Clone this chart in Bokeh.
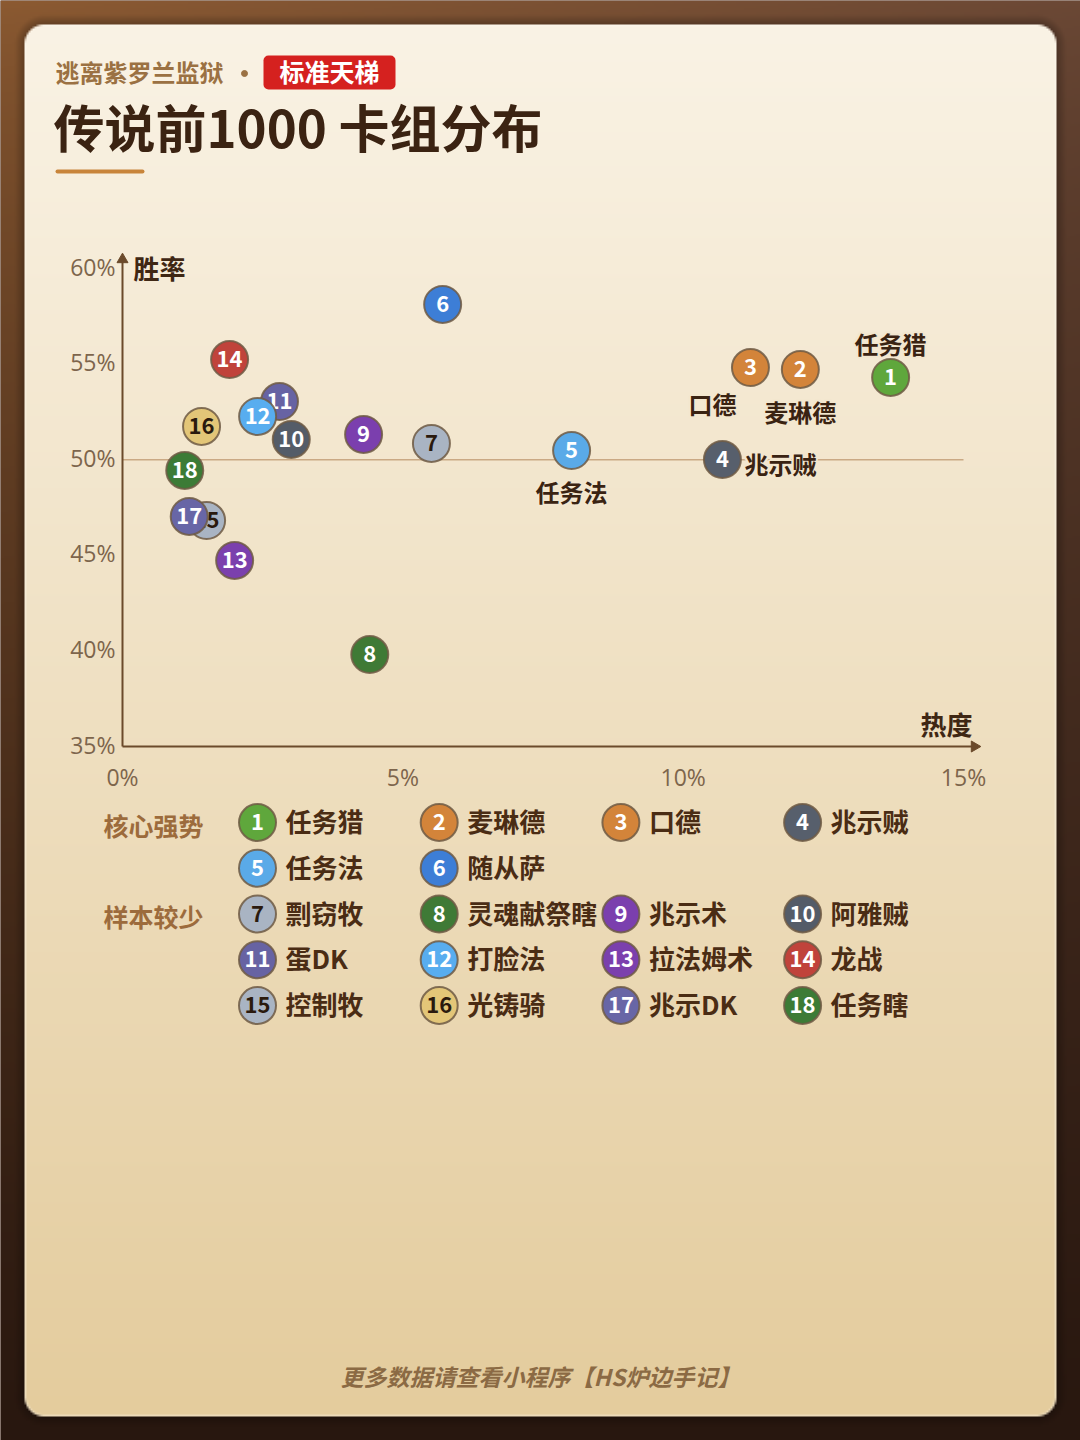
import numpy as np
from bokeh.plotting import figure
from bokeh.models import Range1d
from bokeh.embed import file_html
from bokeh.resources import INLINE
from bokeh.core.properties import value

# ---------------- data ----------------
deck_ids = list(range(1, 19))
deck_names = ["任务猎", "麦琳德", "口德", "兆示贼", "任务法", "随从萨",
              "剽窃牧", "灵魂献祭瞎", "兆示术", "阿雅贼", "蛋DK", "打脸法",
              "拉法姆术", "龙战", "控制牧", "光铸骑", "兆示DK", "任务瞎"]
popularity = [13.70, 12.09, 11.20, 10.70, 8.01, 5.71, 5.51, 4.41, 4.30,
              3.01, 2.80, 2.41, 2.00, 1.91, 1.50, 1.41, 1.19, 1.11]
win_rate = [54.30, 54.72, 54.82, 50.01, 50.48, 58.12, 50.85, 39.81, 51.32,
            51.06, 53.04, 52.26, 44.73, 55.24, 46.82, 51.74, 47.03, 49.44]
deck_colors = ["#5fa73c", "#d3843a", "#d3843a", "#575f6c", "#5aaae8", "#3d7ed6",
               "#a9b4c3", "#3f7a36", "#7b3fae", "#545c68", "#6763a3", "#58adef",
               "#7b40ad", "#c0433b", "#a9b4c3", "#e3c678", "#6866a6", "#3c7b36"]
deck_group = ["核心强势"] * 6 + ["样本较少"] * 12
group_labels = ["核心强势", "样本较少"]
x_ticks = [0, 5, 10, 15]
x_tick_labels = ["0%", "5%", "10%", "15%"]
y_ticks = [35, 40, 45, 50, 55, 60]
y_tick_labels = ["35%", "40%", "45%", "50%", "55%", "60%"]
reference_win_rate = 50
labelled_decks = [1, 2, 3, 4, 5]
x_axis_title = "热度"
y_axis_title = "胜率"
season = "逃离紫罗兰监狱"
mode = "标准天梯"
title = "传说前1000 卡组分布"
footer = "更多数据请查看小程序【HS炉边手记】"

# ---------------- layout helpers ----------------
W, H = 1080, 1440
TS = 2  # text lift in px (baseline correction)


def RX(x):
    return x


def RY(y):
    return H - y


CJK = value("Noto Sans CJK SC")
LAT = value("Open Sans")

p = figure(width=W, height=H, x_range=Range1d(0, W), y_range=Range1d(0, H),
           output_backend="svg", toolbar_location=None, min_border=0,
           x_axis_location=None, y_axis_location=None)
p.grid.visible = False
p.outline_line_color = None
p.background_fill_color = "#4e2e1e"
p.border_fill_color = "#4e2e1e"

# ---------------- background (outer gradient + card) ----------------
S = 2
w, h = W // S, H // S
gx = (np.arange(w) + 0.5) * S
gy = (np.arange(h) + 0.5) * S
X, Y = np.meshgrid(gx, gy)
s = (X / W)[..., None]
t = (Y / H)[..., None]
TL = np.array([141, 91, 50.])
TR = np.array([108, 73, 54.])
BOT = np.array([40, 23, 15.])
top = TL * (1 - s) + TR * s
k = t ** 0.7
rgb = top * (1 - k) + BOT * k
cx0, cy0, cx1, cy1, rad = 24, 24, 1056, 1416, 20
ct = np.clip((Y - cy0) / (cy1 - cy0), 0, 1)[..., None]
CT = np.array([250, 243, 229.])
CB = np.array([228, 204, 157.])
card = CT * (1 - ct) + CB * ct
ddx = np.maximum(np.maximum(cx0 + rad - X, 0), X - (cx1 - rad))
ddy = np.maximum(np.maximum(cy0 + rad - Y, 0), Y - (cy1 - rad))
dist = rad - np.sqrt(ddx ** 2 + ddy ** 2)
cov = np.clip(dist / S + 0.5, 0, 1)[..., None]
edge = np.clip(1 - dist / 3.0, 0, 1)[..., None]
card = card * (1 - 0.5 * edge) + np.array([255, 251, 242.]) * 0.5 * edge
shadow = (np.clip(1 - (-dist) / 10, 0, 1) * (dist < 0))[..., None]
rgb = rgb * (1 - 0.25 * shadow)
rgb = rgb * (1 - cov) + card * cov
rgba = np.empty((h, w, 4), dtype=np.uint8)
rgba[..., :3] = np.clip(rgb, 0, 255).astype(np.uint8)
rgba[..., 3] = 255
rgba = np.ascontiguousarray(rgba[::-1])
img = rgba.view(dtype=np.uint32).reshape((h, w))
p.image_rgba(image=[img], x=0, y=0, dw=W, dh=H)

# ---------------- header ----------------
p.text(x=[RX(55)], y=[RY(73) + TS], text=[season], text_font=CJK, text_font_style="bold",
       text_font_size="24px", text_color="#9b7143", text_align="left", text_baseline="middle")
p.scatter(x=[RX(244)], y=[RY(73)], size=6, marker="circle", color="#9b7143")
try:
    p.quad(left=[RX(263)], right=[RX(395)], top=[RY(55)], bottom=[RY(89)],
           fill_color="#d5211f", line_color=None, border_radius=5)
except Exception:
    p.quad(left=[RX(263)], right=[RX(395)], top=[RY(55)], bottom=[RY(89)],
           fill_color="#d5211f", line_color=None)
p.text(x=[RX(329)], y=[RY(72) + TS], text=[mode], text_font=CJK, text_font_style="bold",
       text_font_size="25px", text_color="#ffffff", text_align="center", text_baseline="middle")
p.text(x=[RX(53)], y=[RY(127) + TS], text=[title], text_font=CJK, text_font_style="bold",
       text_font_size="51px", text_color="#3b2312", text_align="left", text_baseline="middle")
p.segment(x0=[RX(57)], y0=[RY(171)], x1=[RX(142)], y1=[RY(171)], line_width=4,
          line_color="#c8843a", line_cap="round")

# ---------------- scales for the scatter ----------------
X0_PX, X15_PX = RX(122), RX(963)
ppx = (X15_PX - X0_PX) / 15.0
p.extra_x_ranges = {"pop": Range1d(0 - X0_PX / ppx, (W - X0_PX) / ppx)}
Y35_PX, Y60_PX = RY(746), RY(268)
ppy = (Y60_PX - Y35_PX) / 25.0
p.extra_y_ranges = {"wr": Range1d(35 - Y35_PX / ppy, 35 + (H - Y35_PX) / ppy)}
DR = dict(x_range_name="pop", y_range_name="wr")
tl = TS / ppy  # text lift in data units

AXC = "#6b4a2b"
x_min, y_min = x_ticks[0], y_ticks[0]
x_end = x_ticks[-1] + 11 / ppx
y_end = y_ticks[-1] + 9 / ppy

# reference line
p.segment(x0=[x_min], y0=[reference_win_rate], x1=[x_ticks[-1]], y1=[reference_win_rate],
          line_color="#caa984", line_width=1.5, **DR)
# axes with arrows
p.segment(x0=[x_min, x_min], y0=[y_min, y_min], x1=[x_min, x_end], y1=[y_end, y_min],
          line_color=AXC, line_width=2, **DR)
p.scatter(x=[x_min], y=[y_end], marker="triangle", size=11, angle=0,
          fill_color=AXC, line_color=AXC, **DR)
p.scatter(x=[x_end], y=[y_min], marker="triangle", size=11, angle=-np.pi / 2,
          fill_color=AXC, line_color=AXC, **DR)

# tick labels
p.text(x=[x_min] * len(y_ticks), y=[v + tl for v in y_ticks], text=y_tick_labels, x_offset=-7,
       text_font=LAT, text_font_size="23px", text_color="#7d654c",
       text_align="right", text_baseline="middle", **DR)
p.text(x=x_ticks, y=[y_min - 32 / ppy + tl] * len(x_ticks), text=x_tick_labels,
       text_font=LAT, text_font_size="23px", text_color="#7d654c",
       text_align="center", text_baseline="middle", **DR)

# axis titles
p.text(x=[x_min + 11 / ppx], y=[y_ticks[-1] - 1 / ppy + tl], text=[y_axis_title], text_font=CJK,
       text_font_style="bold", text_font_size="26px", text_color="#3f2714",
       text_align="left", text_baseline="middle", **DR)
p.text(x=[x_ticks[-1] + 9 / ppx], y=[y_min + 21 / ppy + tl], text=[x_axis_title], text_font=CJK,
       text_font_style="bold", text_font_size="26px", text_color="#3f2714",
       text_align="right", text_baseline="middle", **DR)

# deck labels next to leading points (offsets in screen px, +down)
label_offsets = {1: (0, -32, "center"), 2: (0, 44, "center"), 3: (-38, 38, "center"),
                 4: (22, 6, "left"), 5: (0, 43, "center")}
halo = [(-2, 0), (2, 0), (0, -2), (0, 2), (-1.5, -1.5), (1.5, 1.5), (-1.5, 1.5), (1.5, -1.5)]
for did in labelled_decks:
    i = deck_ids.index(did)
    dx, dy, al = label_offsets[did]
    lx = popularity[i] + dx / ppx
    ly = win_rate[i] - dy / ppy + tl
    for hx, hy in halo:
        p.text(x=[lx], y=[ly], text=[deck_names[i]], x_offset=hx, y_offset=hy,
               text_font=CJK, text_font_style="bold", text_font_size="24px",
               text_color="#f3e7cf", text_align=al, text_baseline="middle", **DR)
    p.text(x=[lx], y=[ly], text=[deck_names[i]], text_font=CJK, text_font_style="bold",
           text_font_size="24px", text_color="#3a2312", text_align=al,
           text_baseline="middle", **DR)


def num_color(hexc):
    r, g, b = int(hexc[1:3], 16), int(hexc[3:5], 16), int(hexc[5:7], 16)
    lum = (0.2126 * r + 0.7152 * g + 0.0722 * b) / 255
    return "#2a1a0e" if lum > 0.66 else "#ffffff"


# points (custom drawing order so overlaps match)
draw_order = [0, 1, 2, 3, 4, 5, 6, 7, 8, 10, 9, 11, 12, 13, 14, 15, 16, 17]
for i in draw_order:
    p.scatter(x=[popularity[i]], y=[win_rate[i]], marker="circle", size=37,
              fill_color=deck_colors[i], line_color="#6e5a44", line_alpha=0.85,
              line_width=2, **DR)
    p.text(x=[popularity[i]], y=[win_rate[i] + tl / 2], text=[str(deck_ids[i])], text_font=CJK,
           text_font_style="bold", text_font_size="22px", text_color=num_color(deck_colors[i]),
           text_align="center", text_baseline="middle", **DR)

# ---------------- legend ----------------
row_y = [822 + r * 45.75 for r in range(5)]
col_x = [257 + c * 181.7 for c in range(4)]
group_row_start = {"核心强势": 0, "样本较少": 2}
for g in group_labels:
    r0 = group_row_start[g]
    p.text(x=[RX(103)], y=[RY(row_y[r0] + 4) + TS], text=[g], text_font=CJK,
           text_font_style="bold", text_font_size="25px", text_color="#9c6b3c",
           text_align="left", text_baseline="middle")

leg_x, leg_y = [], []
counters = {g: 0 for g in group_labels}
for i in range(len(deck_ids)):
    g = deck_group[i]
    kk = counters[g]
    counters[g] += 1
    r = group_row_start[g] + kk // 4
    c = kk % 4
    leg_x.append(RX(col_x[c]))
    leg_y.append(RY(row_y[r]))

p.text(x=[v + 28 for v in leg_x], y=[v + TS for v in leg_y], text=deck_names, text_font=CJK,
       text_font_style="bold", text_font_size="26px", text_color="#4a2c14",
       text_align="left", text_baseline="middle")
p.scatter(x=leg_x, y=leg_y, marker="circle", size=37, fill_color=deck_colors,
          line_color="#6e5a44", line_alpha=0.85, line_width=2)
p.text(x=leg_x, y=[v + TS / 2 for v in leg_y], text=[str(d) for d in deck_ids], text_font=CJK,
       text_font_style="bold", text_font_size="22px",
       text_color=[num_color(c) for c in deck_colors],
       text_align="center", text_baseline="middle")

# ---------------- footer ----------------
p.text(x=[RX(540)], y=[RY(1377) + TS], text=[footer], text_font=CJK, text_font_style="bold italic",
       text_font_size="23px", text_color="#8b6a44", text_align="center", text_baseline="middle")

open("out.html", "w").write(file_html(p, INLINE))
